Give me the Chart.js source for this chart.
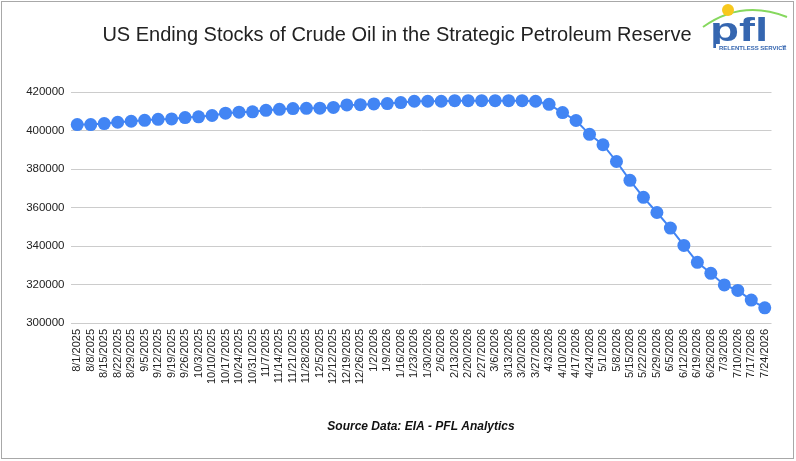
<!DOCTYPE html>
<html><head><meta charset="utf-8">
<script src="https://cdn.jsdelivr.net/npm/chart.js@4"></script>
<style>html,body{margin:0;padding:0;background:#fff;}#wrap{width:796px;height:461px;position:relative;}</style>
</head><body><div id="wrap"><canvas id="c" width="796" height="461"></canvas></div>
<script>
const categories = ["8/1/2025","8/8/2025","8/15/2025","8/22/2025","8/29/2025","9/5/2025","9/12/2025","9/19/2025","9/26/2025","10/3/2025","10/10/2025","10/17/2025","10/24/2025","10/31/2025","11/7/2025","11/14/2025","11/21/2025","11/28/2025","12/5/2025","12/12/2025","12/19/2025","12/26/2025","1/2/2026","1/9/2026","1/16/2026","1/23/2026","1/30/2026","2/6/2026","2/13/2026","2/20/2026","2/27/2026","3/6/2026","3/13/2026","3/20/2026","3/27/2026","4/3/2026","4/10/2026","4/17/2026","4/24/2026","5/1/2026","5/8/2026","5/15/2026","5/22/2026","5/29/2026","6/5/2026","6/12/2026","6/19/2026","6/26/2026","7/3/2026","7/10/2026","7/17/2026","7/24/2026"];
const stocks = [403100,403100,403600,404300,404800,405300,405800,406000,406700,407100,407800,409000,409500,409700,410500,411000,411400,411500,411600,412000,413300,413400,413800,414000,414500,415200,415200,415200,415500,415500,415500,415500,415500,415500,415200,413600,409300,405200,398000,392600,383900,374100,365300,357400,349300,340300,331500,325800,319800,316900,311900,307900];
const yTicks = [300000,320000,340000,360000,380000,400000,420000];
const titleText = "US Ending Stocks of Crude Oil in the Strategic Petroleum Reserve";
const sourceText = "Source Data: EIA - PFL Analytics";

const FONT = "'Liberation Sans', Arial, sans-serif";

const decor = {
  id: 'decor',
  afterDraw(chart) {
    const ctx = chart.ctx;
    ctx.save();
    // border
    ctx.strokeStyle = '#a8a8a8';
    ctx.lineWidth = 1;
    ctx.strokeRect(1.5, 1.5, 792, 457);
    // title
    ctx.fillStyle = '#222';
    ctx.font = '20px ' + FONT;
    ctx.textAlign = 'center';
    ctx.textBaseline = 'middle';
    ctx.fillText(titleText, 397, 35);
    // footer
    ctx.font = 'italic bold 12px ' + FONT;
    ctx.fillStyle = '#111';
    ctx.fillText(sourceText, 421, 427);
    // logo
    ctx.strokeStyle = '#86d85e';
    ctx.lineWidth = 2;
    ctx.beginPath();
    ctx.moveTo(703, 27);
    ctx.quadraticCurveTo(742, -1, 787, 17);
    ctx.stroke();
    ctx.fillStyle = '#f7c81e';
    ctx.beginPath();
    ctx.arc(728, 10, 6, 0, Math.PI * 2);
    ctx.fill();
    ctx.fillStyle = '#3566b0';
    ctx.textAlign = 'left';
    ctx.textBaseline = 'alphabetic';
    ctx.save();
    ctx.translate(710, 41);
    ctx.scale(1.4, 1);
    ctx.font = 'bold 34px ' + FONT;
    ctx.fillText('pfl', 0, 0);
    ctx.restore();
    ctx.fillStyle = '#fff';
    ctx.fillRect(716, 44, 72, 8);
    ctx.fillStyle = '#3566b0';
    ctx.font = 'bold 6px ' + FONT;
    ctx.fillText('RELENTLESS SERVICE', 719, 50);
    ctx.font = '3px ' + FONT;
    ctx.fillText('TM', 782, 48);
    ctx.restore();
  }
};

new Chart(document.getElementById('c'), {
  type: 'line',
  data: {
    labels: categories,
    datasets: [{
      data: stocks,
      borderColor: '#4285F4',
      backgroundColor: '#4285F4',
      borderWidth: 2,
      pointRadius: 6.5,
      pointBorderWidth: 0,
      pointBackgroundColor: '#4285F4',
      tension: 0
    }]
  },
  options: {
    responsive: false,
    animation: false,
    layout: { padding: { left: 0, right: 24.5, top: 92, bottom: 0 } },
    plugins: { legend: { display: false }, title: { display: false }, tooltip: { enabled: false } },
    scales: {
      x: {
        offset: true,
        grid: { display: false, drawTicks: false },
        border: { display: false },
        afterFit(s) { s.height = 138; },
        ticks: {
          autoSkip: false, minRotation: 90, maxRotation: 90, padding: 6,
          color: '#222', font: { family: FONT, size: 11 }
        }
      },
      y: {
        min: 300000, max: 420000,
        afterFit(s) { s.width = 70.5; },
        afterBuildTicks(s) { s.ticks = yTicks.map(v => ({ value: v })); },
        grid: { color: '#cccccc', lineWidth: 1, drawTicks: false },
        border: { display: false },
        ticks: {
          padding: 6, color: '#222', font: { family: FONT, size: 11.5 },
          callback: v => String(v)
        }
      }
    }
  },
  plugins: [decor]
});
</script></body></html>
